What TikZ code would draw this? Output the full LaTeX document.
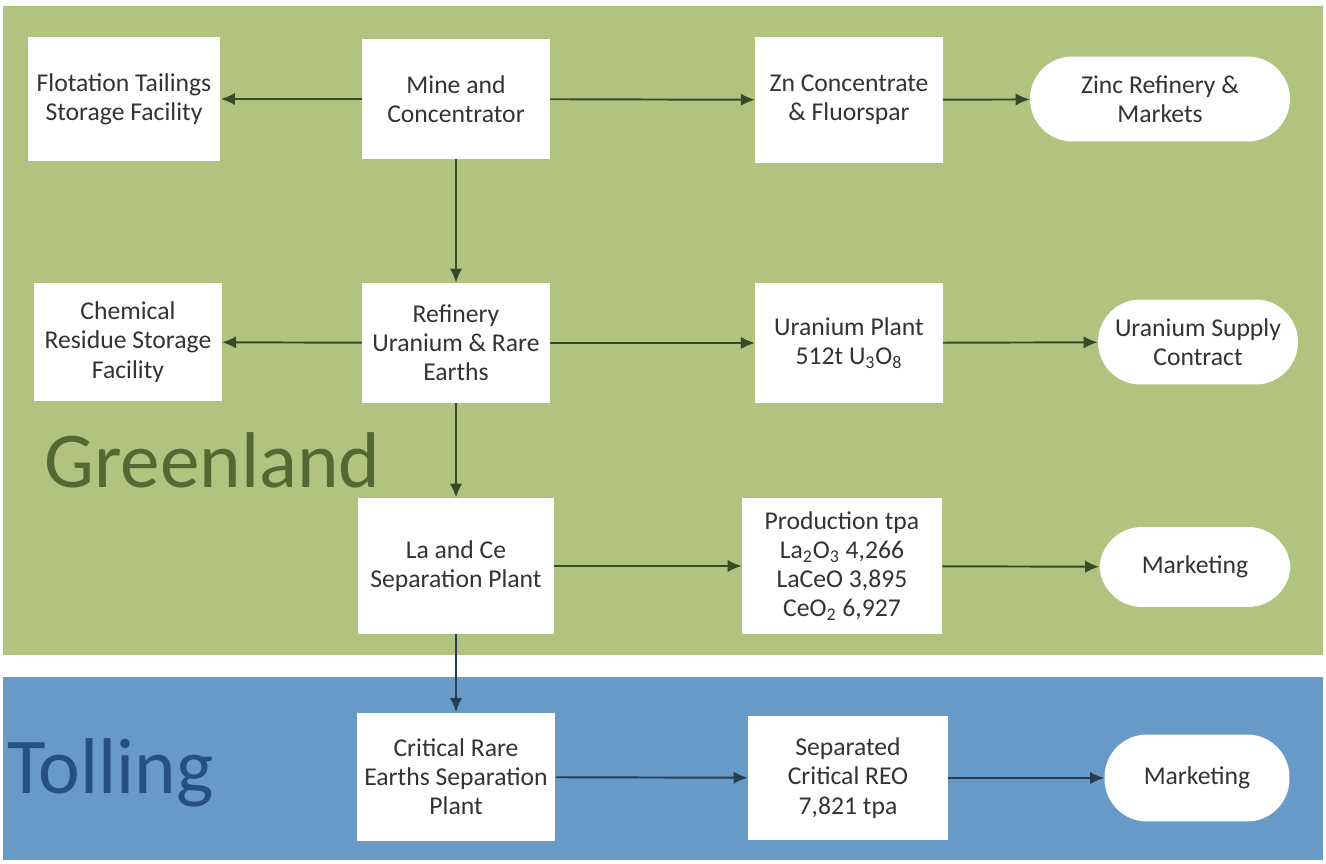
\documentclass[tikz,border=0pt]{standalone}
\usepackage{fontspec}
\setmainfont{Carlito}
\usetikzlibrary{arrows.meta}
\definecolor{greenbg}{RGB}{178,195,128}
\definecolor{bluebg}{RGB}{104,154,200}
\definecolor{greentxt}{RGB}{84,104,50}
\definecolor{bluetxt}{RGB}{38,80,128}
\definecolor{arrowgreen}{RGB}{58,72,42}
\definecolor{arrowblue}{RGB}{40,60,82}

\begin{document}
\begin{tikzpicture}[x=0.02cm,y=-0.02cm,
		box/.style={fill=white, text=black!80, align=center, inner sep=2pt,
			font=\fontsize{14.6}{16.6}\selectfont, minimum width=3.75cm, minimum height=2.4cm},
		pill/.style={box, rounded corners=0.85cm, minimum height=1.7cm},
		flow/.style={-{Latex[length=8pt,width=7pt]}, line width=1.1pt, draw=arrowgreen},
		bigword/.style={anchor=base west, inner sep=0pt, font=\fontsize{45}{45}\selectfont}]
		\useasboundingbox (0,0) rectangle (1326,864);

		% the two regions
		\fill[greenbg] (3,6) rectangle (1323,655);
		\fill[bluebg] (3,677) rectangle (1323,860);
		\node[bigword, text=greentxt] (greenland) at (44,488) {Greenland};
		\node[bigword, text=bluetxt] (tolling) at (7,793) {Tolling};

		% first row
		\node[box, minimum width=3.86cm, minimum height=2.48cm] (tailings) at (124,99) {Flotation Tailings\\Storage Facility};
		\node[box] (mine) at (456,99) {Mine and\\Concentrator};
		\node[box, minimum height=2.52cm] (zinc) at (849,100) {Zn Concentrate\\\& Fluorspar};
		\node[pill, minimum width=5.2cm] (zincmkt) at (1160,99) {Zinc Refinery \&\\Markets};

		% second row
		\node[box, minimum height=2.36cm] (residue) at (128,342) {Chemical\\Residue Storage\\Facility};
		\node[box] (refinery) at (456,343) {Refinery\\Uranium \& Rare\\Earths};
		\node[box] (uranium) at (849,343) {Uranium Plant\\512t U\textsubscript{3}O\textsubscript{8}};
		\node[pill, minimum width=4cm] (contract) at (1198,342) {Uranium Supply\\Contract};

		% third row
		\node[box, minimum width=3.92cm, minimum height=2.72cm] (lace) at (456,566) {La and Ce\\Separation Plant};
		\node[box, minimum width=4cm, minimum height=2.72cm] (product) at (842,566) {Production tpa\\La\textsubscript{2}O\textsubscript{3} 4,266\\LaCeO 3,895\\CeO\textsubscript{2} 6,927};
		\node[pill, minimum width=3.82cm, minimum height=1.6cm] (market) at (1195,567) {Marketing};

		% tolling row
		\node[box, minimum width=3.98cm, minimum height=2.58cm] (critical) at (456,777) {Critical Rare\\Earths Separation\\Plant};
		\node[box, minimum width=4cm, minimum height=2.48cm] (reo) at (848,778) {Separated\\Critical REO\\7,821 tpa};
		\node[pill, minimum width=3.7cm, minimum height=1.74cm] (tollmkt) at (1197,778) {Marketing};

		\draw[flow] (mine) -- (tailings);
		\draw[flow] (mine) -- (zinc);
		\draw[flow] (zinc) -- (zincmkt);
		\draw[flow] (mine) -- (refinery);
		\draw[flow] (refinery) -- (residue);
		\draw[flow] (refinery) -- (uranium);
		\draw[flow] (uranium) -- (contract);
		\draw[flow] (refinery) -- (lace);
		\draw[flow] (lace) -- (product);
		\draw[flow] (product) -- (market);
		\draw[flow, draw=arrowblue] (lace) -- (critical);
		\draw[flow, draw=arrowblue] (critical) -- (reo);
		\draw[flow, draw=arrowblue] (reo) -- (tollmkt);
	\end{tikzpicture}
\end{document}
